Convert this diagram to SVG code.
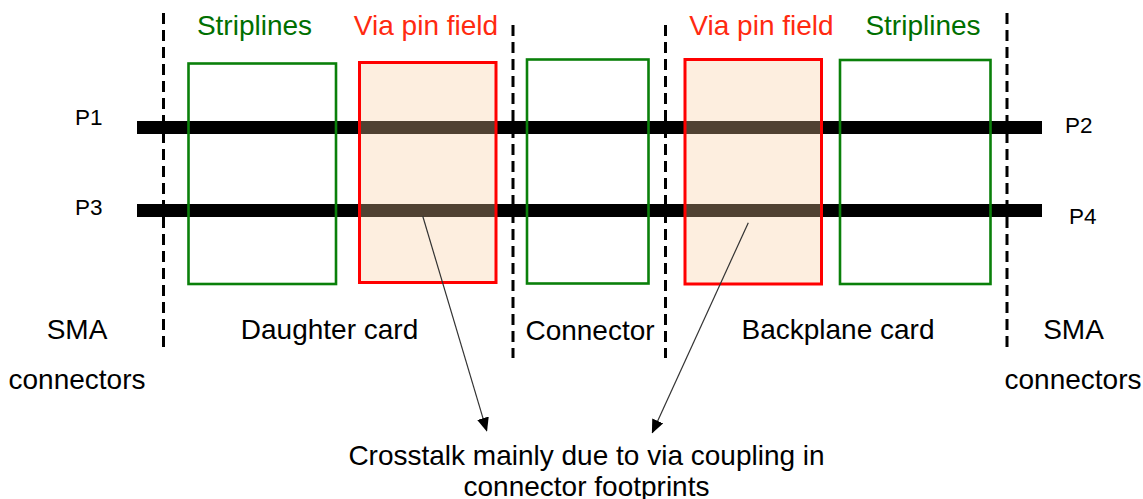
<svg xmlns="http://www.w3.org/2000/svg" width="1143" height="499" viewBox="0 0 1143 499">
<style>
text{font-family:"Liberation Sans",Arial,sans-serif;font-size:28px;fill:#000}
.lbl{text-anchor:middle}
.p{font-size:22.5px}
.green{fill:#006f00}
.red{fill:#ff2a10}
.bar{stroke:#000;stroke-width:13}
.dash{stroke:#000;stroke-width:3;stroke-dasharray:11 6}
.strip{fill:none;stroke:#0a800a;stroke-width:2.6}
.via{fill:#f8c99d;fill-opacity:0.32;stroke:#ff0000;stroke-width:3}
.arr{stroke:#333;stroke-width:1.2;fill:none;marker-end:url(#ah)}
</style>
<defs>
<marker id="ah" markerUnits="userSpaceOnUse" markerWidth="14" markerHeight="12" viewBox="0 0 14 12" refX="13" refY="6" orient="auto">
<path d="M0,0 L14,6 L0,12 Z" fill="#000"/>
</marker>
</defs>
<rect width="1143" height="499" fill="#fff"/>
<g id="traces">
<line class="bar" x1="137" y1="127.5" x2="1042" y2="127.5"/>
<line class="bar" x1="137" y1="210.5" x2="1042" y2="210.5"/>
</g>
<g id="boundaries">
<line class="dash" x1="163.5" y1="13" x2="163.5" y2="350"/>
<line class="dash" x1="513" y1="25" x2="513" y2="358"/>
<line class="dash" x1="665.5" y1="25" x2="665.5" y2="358"/>
<line class="dash" x1="1007" y1="13" x2="1007" y2="350"/>
</g>
<g id="striplines-left">
<rect class="strip" x="188.5" y="63.5" width="147.5" height="220.5"/>
<text class="lbl green" x="254.5" y="35">Striplines</text>
</g>
<g id="via-left">
<rect class="via" x="359.5" y="62.5" width="136.5" height="220"/>
<text class="lbl red" x="426" y="35">Via pin field</text>
</g>
<g id="connector-box">
<rect class="strip" x="527" y="59.5" width="121.5" height="224"/>
</g>
<g id="via-right">
<rect class="via" x="685" y="59.5" width="136.5" height="224.5"/>
<text class="lbl red" x="761.5" y="35">Via pin field</text>
</g>
<g id="striplines-right">
<rect class="strip" x="840" y="60" width="150.5" height="224"/>
<text class="lbl green" x="923" y="35">Striplines</text>
</g>
<g id="ports">
<text class="p" x="75" y="124.5">P1</text>
<text class="p" x="75" y="215">P3</text>
<text class="p" x="1065" y="133">P2</text>
<text class="p" x="1069" y="224">P4</text>
</g>
<g id="sections">
<text class="lbl" x="77" y="338.5">SMA</text>
<text class="lbl" x="77" y="389">connectors</text>
<text class="lbl" x="329.5" y="338.5">Daughter card</text>
<text class="lbl" x="590" y="339.5">Connector</text>
<text class="lbl" x="838" y="338.5">Backplane card</text>
<text class="lbl" x="1073.5" y="338.5">SMA</text>
<text class="lbl" x="1073" y="389">connectors</text>
</g>
<g id="note">
<text class="lbl" x="586.5" y="465">Crosstalk mainly due to via coupling in</text>
<text class="lbl" x="586.5" y="496">connector footprints</text>
</g>
<g id="connectors">
<line class="arr" x1="422.7" y1="216" x2="486.7" y2="430.7"/>
<line class="arr" x1="748.3" y1="222.7" x2="652.3" y2="432.7"/>
</g>
</svg>
